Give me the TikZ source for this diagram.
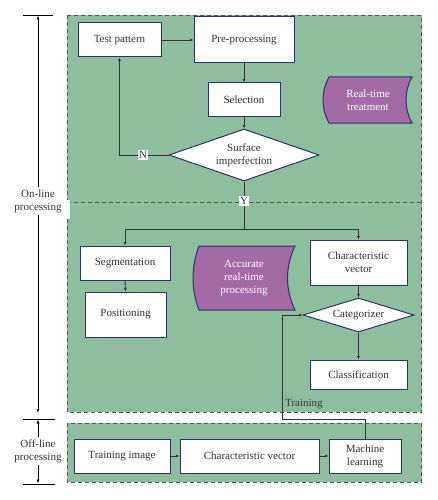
\documentclass[tikz,border=0pt]{standalone}
\usepackage{fontspec}
\setmainfont{Liberation Serif}
\usetikzlibrary{shapes.geometric,arrows.meta}
\definecolor{bggreen}{HTML}{8DBF9E}
\definecolor{navy}{HTML}{2B3467}
\definecolor{purp}{HTML}{A46AA6}
\definecolor{dashgray}{HTML}{4F5A52}
\definecolor{txt}{HTML}{333333}
\tikzset{
  box/.style={draw=navy, line width=1pt, fill=white, inner sep=0pt, align=center, font=\fontsize{11}{13}\selectfont, text=txt},
  dia/.style={box, diamond, aspect=2.9},
  lbl/.style={fill=white, inner sep=1.5pt, font=\fontsize{11}{13}\selectfont, text=txt},
  sidelbl/.style={fill=white, inner sep=2pt, align=center, font=\fontsize{11}{13}\selectfont, text=txt},
  conn/.style={draw=black!80, line width=0.9pt},
  arr/.style={conn, -{Latex[length=3.5pt,width=3pt]}},
  region/.style={fill=bggreen, draw=dashgray, line width=0.9pt, dash pattern=on 4pt off 3pt},
  store/.style={fill=purp, draw=navy, line width=1pt},
  storetext/.style={align=center, text=white, inner sep=0pt, font=\fontsize{11}{13}\selectfont},
  dim/.style={draw=black, line width=0.8pt},
  dimarr/.style={dim, -{Latex[length=4pt,width=3pt]}}
}
\begin{document}
\begin{tikzpicture}[x=1pt,y=-1pt]
\useasboundingbox (0,0) rectangle (438,500);
% regions
\draw[region] (67,15.5) rectangle (421.5,412);
\draw[region] (67,202) -- (421.5,202);
\draw[region] (67,423) rectangle (421.5,482);

% purple stored-data shapes
\draw[store] (329,77) -- (412,77) .. controls (404,92) and (404,108) .. (412,123) -- (329,123) .. controls (321,108) and (321,92) .. (329,77) -- cycle;
\node[storetext] (rtt) at (368,100) {Real-time\\treatment};
\draw[store] (199,246) -- (295,246) .. controls (285,267) and (285,289) .. (295,310) -- (199,310) .. controls (191,289) and (191,267) .. (199,246) -- cycle;
\node[storetext] (acc) at (244,278) {Accurate\\real-time\\processing};

% upper nodes
\node[box, minimum width=83pt, minimum height=34pt] (tp) at (119.5,40) {Test pattern};
\node[box, minimum width=100pt, minimum height=46pt] (pre) at (244,40) {Pre-processing};
\node[box, minimum width=72pt, minimum height=34pt] (sel) at (244,100) {Selection};
\node[dia, minimum width=150pt, minimum height=52pt] (surf) at (244,155) {Surface\\imperfection};

% lower nodes
\node[box, minimum width=90pt, minimum height=34pt] (seg) at (125,263) {Segmentation};
\node[box, minimum width=81pt, minimum height=45pt] (pos) at (125.5,314.5) {Positioning};
\node[box, minimum width=97pt, minimum height=45pt] (cv1) at (358.5,262.5) {Characteristic\\vector};
\node[dia, minimum width=111pt, minimum height=34pt, aspect=3.3] (cat) at (358.5,315) {Categorizer};
\node[box, minimum width=97pt, minimum height=29pt] (cls) at (358.5,374.5) {Classification};

% offline nodes
\node[box, minimum width=96pt, minimum height=34pt] (ti) at (122,456) {Training image};
\node[box, minimum width=139pt, minimum height=34pt] (cv2) at (249.5,456) {Characteristic vector};
\node[box, minimum width=72pt, minimum height=34pt] (ml) at (365,456) {Machine\\learning};

% connectors
\draw[arr] (tp.east) -- (pre.west);
\draw[arr] (pre.south) -- (sel.north);
\draw[arr] (sel.south) -- (surf.north);
\coordinate (ncorner) at (tp.south |- surf.west);
\draw[arr] (surf.west) -- (ncorner) -- (tp.south);
\node[lbl] (nlab) at (143,155) {N};
\coordinate (branch) at (244,229);
\coordinate (bl) at (seg.north |- branch);
\coordinate (br) at (cv1.north |- branch);
\draw[conn] (surf.south) -- (branch);
\draw[arr] (branch) -- (bl) -- (seg.north);
\draw[arr] (branch) -- (br) -- (cv1.north);
\node[lbl] (ylab) at (244,201) {Y};
\draw[arr] (seg.south) -- (pos.north);
\draw[arr] (cv1.south) -- (cat.north);
\draw[arr] (cat.south) -- (cls.north);
\draw[arr] (ti.east) -- (cv2.west);
\draw[arr] (cv2.east) -- (ml.west);
\coordinate (t1) at (ml.north |- 0,419);
\coordinate (t2) at (282,419);
\coordinate (t3) at (282,315);
\draw[arr] (ml.north) -- (t1) -- (t2) -- (t3) -- (cat.west);
\node[anchor=west, inner sep=0pt, font=\fontsize{11}{13}\selectfont, text=txt] (trlab) at (285,404) {Training};

% left dimension lines
\fill[white] (14,200) rectangle (70,219);
\node[sidelbl] (onl) at (38,201) {On-line\\processing};
\coordinate (ontop) at (38,15.5);
\coordinate (onbot) at (38,413);
\draw[dim] (23,15.5) -- (53,15.5);
\draw[dimarr] (onl.north) -- (ontop);
\draw[dimarr] (onl.south) -- (onbot);
\draw[dim] (23,419) -- (55,419);
\node[sidelbl] (offl) at (38,451) {Off-line\\processing};
\coordinate (offtop) at (38,419.5);
\coordinate (offbot) at (38,483.5);
\draw[dimarr] (offl.north) -- (offtop);
\draw[dimarr] (offl.south) -- (offbot);
\draw[dim] (23,484) -- (55,484);
\end{tikzpicture}
\end{document}
